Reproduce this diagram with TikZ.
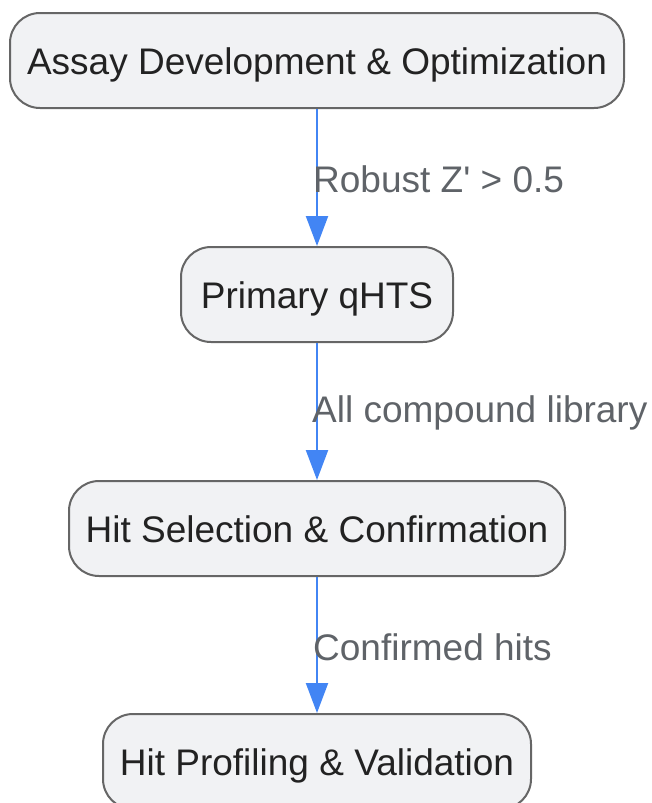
\documentclass[tikz,border=0pt]{standalone}
\usepackage{fontspec}
\setmainfont{Liberation Sans}
\newfontfamily\plainsans{Liberation Sans}
\usetikzlibrary{arrows.meta}
\definecolor{nodefill}{HTML}{F1F2F4}
\definecolor{nodedraw}{HTML}{666666}
\definecolor{nodetext}{HTML}{222222}
\definecolor{edgeblue}{HTML}{4285F4}
\definecolor{labeltext}{HTML}{5F6368}
\tikzset{
  stagebox/.style={draw=nodedraw, fill=nodefill, line width=2pt, rounded corners=30pt,
    text=nodetext, font=\plainsans\fontsize{37}{44}\selectfont, inner sep=0pt,
    text height=36pt, text depth=8pt, anchor=north west},
  flowarrow/.style={draw=edgeblue, line width=2.2pt, -{Triangle[length=30pt,width=22pt]}},
  edgelabel/.style={text=labeltext, font=\plainsans\fontsize{37}{44}\selectfont, inner sep=0pt, anchor=west}
}
\begin{document}
\begin{tikzpicture}[x=1pt,y=-1pt]
\useasboundingbox (0,0) rectangle (652,803);
\node[stagebox, minimum width=614pt, minimum height=95pt] (a) at (9,12) {Assay Development \& Optimization};
\node[stagebox, minimum width=272pt, minimum height=95pt] (b) at (180,246) {Primary qHTS};
\node[stagebox, minimum width=496pt, minimum height=95pt] (c) at (68,480) {Hit Selection \& Confirmation};
\node[stagebox, minimum width=428pt, minimum height=95pt] (d) at (102,713) {Hit Profiling \& Validation};
\draw[flowarrow] (a.south) -- (b.north);
\draw[flowarrow] (b.south) -- (c.north);
\draw[flowarrow] (c.south) -- (d.north);
\node[edgelabel] (la) at (313,179) {Robust Z' > 0.5};
\node[edgelabel] (lb) at (312,413) {All compound library};
\node[edgelabel] (lc) at (313,647) {Confirmed hits};
\end{tikzpicture}
\end{document}
